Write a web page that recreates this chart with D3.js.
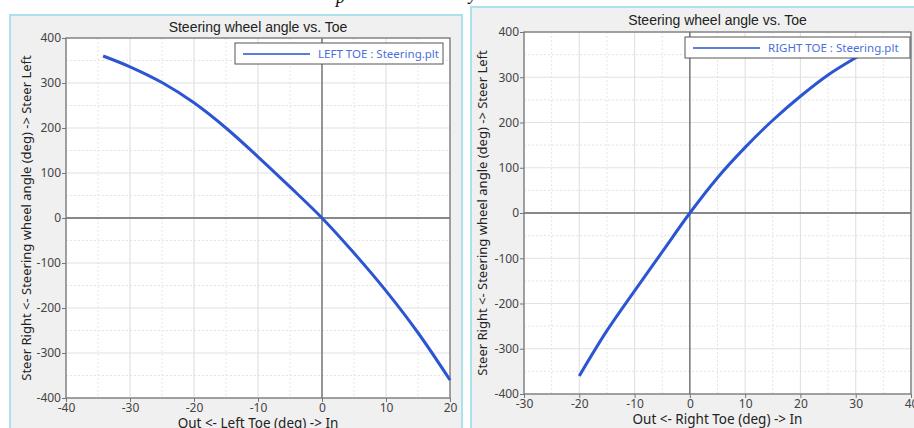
<!DOCTYPE html>
<html><head><meta charset="utf-8">
<script src="https://cdn.jsdelivr.net/npm/d3@7"></script>
<style>body{margin:0;background:#fff;}svg{display:block;}</style>
</head><body>
<svg id="c" width="914" height="428"></svg>
<script>
// ---- data ----
const leftToe   = [-34.2, -30, -25, -20, -15, -10, -5, 0, 5, 10, 15, 20];
const leftSteer = [360, 336, 301, 256, 200, 136, 69, 0, -78, -162, -255, -360];
const rightToe   = [-20, -15, -10, -5, 0, 5, 10, 15, 20, 25, 30, 31];
const rightSteer = [-360, -260, -172, -86, 0, 78, 145, 205, 258, 305, 343, 350];
const leftXTicks  = [-40, -30, -20, -10, 0, 10, 20];
const rightXTicks = [-30, -20, -10, 0, 10, 20, 30, 40];
const yTicks = [-400, -300, -200, -100, 0, 100, 200, 300, 400];
const titleText = "Steering wheel angle vs. Toe";
const yLabel = "Steer Right <- Steering wheel angle (deg) -> Steer Left";
const leftXLabel = "Out <- Left Toe (deg) -> In";
const rightXLabel = "Out <- Right Toe (deg) -> In";
const leftLegend = "LEFT TOE : Steering.plt";
const rightLegend = "RIGHT TOE : Steering.plt";

const svg = d3.select("#c");
const F = "'Noto Sans', 'Open Sans', sans-serif";

// cut-off document caption descenders above the panels
svg.append("text").attr("x", 336).attr("y", 3).attr("font-family", "'Liberation Serif', serif")
  .attr("font-style", "italic").attr("font-size", 18).attr("fill", "#111").text("p");
svg.append("text").attr("x", 469).attr("y", 0).attr("font-family", "'Liberation Serif', serif")
  .attr("font-style", "italic").attr("font-size", 18).attr("fill", "#111").text("y");

function panel(o) {
  const g = svg.append("g");
  g.append("rect").attr("x", o.bx).attr("y", o.by).attr("width", o.bw).attr("height", o.bh)
    .attr("fill", "#f0f0f0").attr("stroke", "#a9e2ea").attr("stroke-width", 2);

  const x = d3.scaleLinear().domain(o.xDomain).range([o.x0, o.x1]);
  const y = d3.scaleLinear().domain([-400, 400]).range([o.y1, o.y0]);

  g.append("rect").attr("x", o.x0).attr("y", o.y0).attr("width", o.x1 - o.x0).attr("height", o.y1 - o.y0)
    .attr("fill", "#fff");

  // minor grid (dotted)
  const xMinor = d3.range(o.xDomain[0] + 5, o.xDomain[1], 10);
  const yMinor = d3.range(-350, 400, 100);
  g.selectAll(null).data(xMinor).join("line")
    .attr("x1", d => x(d)).attr("x2", d => x(d)).attr("y1", o.y0).attr("y2", o.y1)
    .attr("stroke", "#e4e4e4").attr("stroke-dasharray", "2,2");
  g.selectAll(null).data(yMinor).join("line")
    .attr("y1", d => y(d)).attr("y2", d => y(d)).attr("x1", o.x0).attr("x2", o.x1)
    .attr("stroke", "#e4e4e4").attr("stroke-dasharray", "2,2");
  // major grid
  g.selectAll(null).data(o.xTicks).join("line")
    .attr("x1", d => x(d)).attr("x2", d => x(d)).attr("y1", o.y0).attr("y2", o.y1)
    .attr("stroke", "#e2e2e2").attr("stroke-width", 1.2);
  g.selectAll(null).data(yTicks).join("line")
    .attr("y1", d => y(d)).attr("y2", d => y(d)).attr("x1", o.x0).attr("x2", o.x1)
    .attr("stroke", "#e2e2e2").attr("stroke-width", 1.2);
  // zero lines
  g.append("line").attr("x1", x(0)).attr("x2", x(0)).attr("y1", o.y0).attr("y2", o.y1)
    .attr("stroke", "#666").attr("stroke-width", 1.3);
  g.append("line").attr("y1", y(0)).attr("y2", y(0)).attr("x1", o.x0).attr("x2", o.x1)
    .attr("stroke", "#666").attr("stroke-width", 1.3);

  // axes
  const ax = g.append("g").attr("transform", `translate(0,${o.y1})`)
    .call(d3.axisBottom(x).tickValues(o.xTicks).tickSize(4).tickPadding(1).tickFormat(d3.format("d")));
  const ay = g.append("g").attr("transform", `translate(${o.x0},0)`)
    .call(d3.axisLeft(y).tickValues(yTicks).tickSize(4).tickPadding(1).tickFormat(d3.format("d")));
  [ax, ay].forEach(a => {
    a.select(".domain").remove();
    a.selectAll("line").attr("stroke", "#777");
    a.selectAll("text").attr("font-family", F).attr("font-size", 12).attr("fill", "#444");
  });
  ax.selectAll("text").text(d => d < 0 ? "-" + Math.abs(d) : d);
  ay.selectAll("text").text(d => d < 0 ? "-" + Math.abs(d) : d);

  // plot border
  g.append("rect").attr("x", o.x0).attr("y", o.y0).attr("width", o.x1 - o.x0).attr("height", o.y1 - o.y0)
    .attr("fill", "none").attr("stroke", "#777").attr("stroke-width", 1.3);

  // curve
  const pts = o.xs.map((v, i) => [v, o.ys[i]]);
  g.append("path").datum(pts)
    .attr("d", d3.line().x(d => x(d[0])).y(d => y(d[1])).curve(d3.curveCatmullRom.alpha(0.5)))
    .attr("fill", "none").attr("stroke", "#2b55d2").attr("stroke-width", 3);

  // legend
  const lg = g.append("g").attr("transform", `translate(${o.lx},${o.ly})`);
  lg.append("rect").attr("width", o.lw).attr("height", 21).attr("fill", "#fff")
    .attr("stroke", "#555").attr("stroke-width", 1);
  lg.append("line").attr("x1", 8).attr("x2", 75).attr("y1", 11).attr("y2", 11)
    .attr("stroke", "#5a7ee0").attr("stroke-width", 2);
  lg.append("text").attr("x", 83).attr("y", 15).attr("font-family", F).attr("font-size", 11.5)
    .attr("fill", "#4a70d8").text(o.legend);

  // title
  g.append("text").attr("x", (o.x0 + o.x1) / 2 + o.tdx).attr("y", o.ty).attr("text-anchor", "middle")
    .attr("font-family", "'Liberation Sans', Arial, sans-serif").attr("font-size", 14).attr("fill", "#222").text(titleText);
  // x label
  g.append("text").attr("x", (o.x0 + o.x1) / 2).attr("y", o.xly).attr("text-anchor", "middle")
    .attr("font-family", F).attr("font-size", 13.5).attr("fill", "#222").text(o.xLabel);
  // y label
  g.append("text").attr("transform", `translate(${o.ylx},${(o.y0 + o.y1) / 2}) rotate(-90)`)
    .attr("text-anchor", "middle").attr("font-family", F).attr("font-size", 13).attr("fill", "#222").text(yLabel);
}

panel({bx: 10, by: 15, bw: 452, bh: 430, x0: 66, x1: 450, y0: 38, y1: 398,
  xDomain: [-40, 20], xTicks: leftXTicks, xs: leftToe, ys: leftSteer,
  lx: 235, ly: 43, lw: 208, legend: leftLegend, tdx: 0, ty: 32, xly: 428, xLabel: leftXLabel, ylx: 31});
panel({bx: 471, by: 7, bw: 460, bh: 440, x0: 524, x1: 911, y0: 32, y1: 394,
  xDomain: [-30, 40], xTicks: rightXTicks, xs: rightToe, ys: rightSteer,
  lx: 685, ly: 37, lw: 225, legend: rightLegend, tdx: 0, ty: 25, xly: 424, xLabel: rightXLabel, ylx: 487});
</script>
</body></html>
